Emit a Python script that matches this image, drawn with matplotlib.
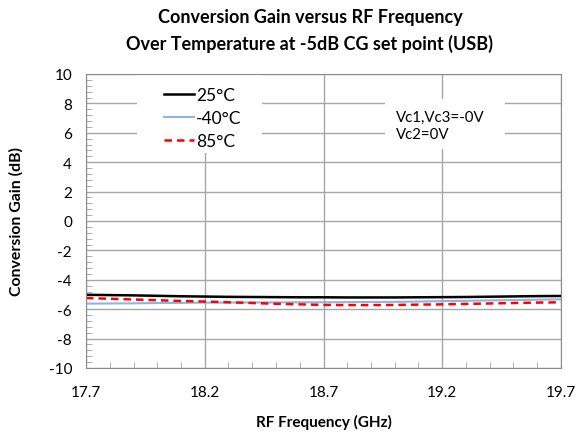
import matplotlib
import matplotlib.pyplot as plt
import numpy as np
from matplotlib.ticker import MultipleLocator
from matplotlib.patches import Rectangle

matplotlib.use("Agg")

freq = [17.7, 17.8, 17.9, 18.0, 18.1, 18.2, 18.3, 18.4, 18.5, 18.6, 18.7,
        18.8, 18.9, 19.0, 19.1, 19.2, 19.3, 19.4, 19.5, 19.6, 19.7]
gain_25 = [-5.02, -5.04, -5.06, -5.09, -5.12, -5.14, -5.16, -5.17, -5.18, -5.19, -5.19,
           -5.20, -5.20, -5.20, -5.19, -5.18, -5.17, -5.15, -5.13, -5.11, -5.10]
gain_m40 = [-5.62, -5.61, -5.60, -5.58, -5.57, -5.55, -5.55, -5.54, -5.54, -5.53, -5.53,
            -5.52, -5.51, -5.50, -5.48, -5.45, -5.43, -5.40, -5.38, -5.35, -5.33]
gain_85 = [-5.24, -5.29, -5.34, -5.39, -5.44, -5.48, -5.53, -5.58, -5.63, -5.67, -5.71,
           -5.72, -5.72, -5.71, -5.69, -5.67, -5.64, -5.61, -5.58, -5.55, -5.53]
labels = ["25°C", "-40°C", "85°C"]

plt.rcParams["font.family"] = ["Lato", "DejaVu Sans"]
plt.rcParams["axes.unicode_minus"] = False

fig = plt.figure(figsize=(5.77, 4.35), dpi=100)
ax = fig.add_axes([86 / 577, 1 - 369 / 435, (561 - 86) / 577, (369 - 75) / 435])

ax.plot(freq, gain_25, color="black", lw=1.8, label=labels[0])
ax.plot(freq, gain_m40, color="#8db4e2", lw=1.5, label=labels[1])
ax.plot(freq, gain_85, color="#ff0000", lw=1.8, ls=(0, (3, 2)), label=labels[2])

ax.set_xlim(17.7, 19.7)
ax.set_ylim(-10, 10)
ax.xaxis.set_minor_locator(MultipleLocator(0.1))
ax.yaxis.set_major_locator(MultipleLocator(2))
ax.yaxis.set_minor_locator(MultipleLocator(0.4))
ax.set_xticks([17.7, 18.2, 18.7, 19.2, 19.7])
ax.set_xticklabels(["17.7", "18.2", "18.7", "19.2", "19.7"])
ax.tick_params(which="major", length=0, labelsize=11)
ax.tick_params(axis="x", which="major", pad=12)
ax.tick_params(axis="y", which="major", pad=10)
ax.tick_params(which="minor", direction="in", length=4, color="#a0a0a0")
ax.grid(True, which="major", color="#a6a6a6", lw=1)
ax.set_axisbelow(True)
for s in ax.spines.values():
    s.set_color("#8c8c8c")

# white boxes behind legend and note, covering the grid
ax.add_patch(Rectangle((17.915, 4.6), 0.525, 5.4, facecolor="white",
                       edgecolor="none", zorder=1.5))
ax.add_patch(Rectangle((18.96, 4.9), 0.505, 3.4, facecolor="white",
                       edgecolor="none", zorder=1.5))

ax.set_ylabel("Conversion Gain (dB)", fontsize=11.4, fontweight="bold", labelpad=18)
ax.set_xlabel("RF Frequency (GHz)", fontsize=11, fontweight="bold", labelpad=11)
fig.text(310 / 577, 1 - 18 / 435, "Conversion Gain versus RF Frequency",
         fontsize=13, fontweight="bold", ha="center", va="center")
fig.text(310 / 577, 1 - 44 / 435, "Over Temperature at -5dB CG set point (USB)",
         fontsize=13, fontweight="bold", ha="center", va="center")

leg = ax.legend(loc="upper left", bbox_to_anchor=(0.137, 1.0), frameon=False,
                fontsize=12.5, handlelength=1.75, handletextpad=0.1, labelspacing=0.4,
                borderpad=0.25)

ax.text(0.652, 0.877, "Vc1,Vc3=-0V\nVc2=0V", transform=ax.transAxes, fontsize=10.8,
        va="top", ha="left", linespacing=1.3, zorder=3)

plt.savefig("out.png", dpi=100)
plt.close()
